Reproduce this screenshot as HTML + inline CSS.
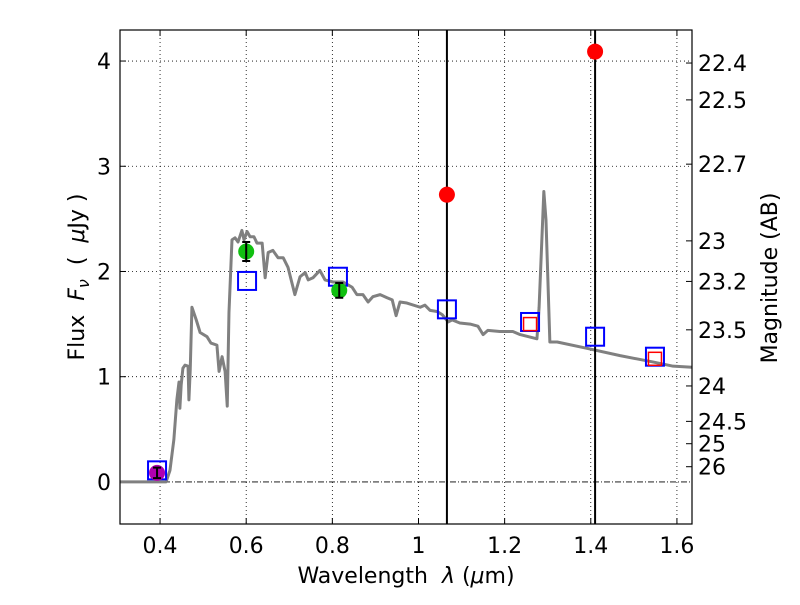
<!DOCTYPE html>
<html><head><meta charset="utf-8"><style>
body{margin:0;background:#fff}
svg{font-family:"DejaVu Sans","Liberation Sans",sans-serif}
text{white-space:pre}
</style></head><body>
<svg id="chart" width="800" height="600" xmlns="http://www.w3.org/2000/svg"></svg>
<script>
const specWl=[0.307,0.414,0.423,0.432,0.439,0.444,0.446,0.449,0.453,0.458,0.465,0.467,0.470,0.474,0.484,0.493,0.509,0.518,0.532,0.537,0.544,0.551,0.556,0.560,0.567,0.574,0.581,0.590,0.595,0.602,0.609,0.618,0.625,0.637,0.644,0.651,0.662,0.674,0.686,0.697,0.713,0.725,0.737,0.744,0.755,0.771,0.783,0.802,0.825,0.846,0.857,0.871,0.883,0.894,0.911,0.927,0.939,0.948,0.957,0.973,1.004,1.015,1.027,1.043,1.055,1.069,1.078,1.096,1.120,1.138,1.150,1.161,1.189,1.219,1.236,1.275,1.280,1.291,1.296,1.305,1.322,1.391,1.468,1.544,1.591,1.635];
const specFlux=[0,0,0.11,0.40,0.78,0.95,0.70,0.92,1.08,1.11,1.10,0.78,1.06,1.66,1.54,1.42,1.38,1.32,1.30,1.05,1.19,1.05,0.72,1.61,2.30,2.32,2.28,2.39,2.30,2.38,2.33,2.33,2.27,2.27,1.94,2.18,2.20,2.13,2.13,2.04,1.78,1.95,1.99,1.92,1.94,2.01,1.92,1.90,1.90,1.85,1.78,1.78,1.71,1.76,1.78,1.75,1.73,1.58,1.71,1.70,1.66,1.68,1.63,1.62,1.59,1.52,1.54,1.51,1.50,1.48,1.40,1.44,1.43,1.43,1.40,1.36,1.66,2.76,2.49,1.33,1.33,1.27,1.20,1.14,1.10,1.09];
const obsWl=[0.393,0.600,0.816];
const obsFlux=[0.086,2.19,1.82];
const obsErr=[0.05,0.09,0.07];
const obsColor=["#b000b0","#10c010","#10c010"];
const ulWl=[1.066,1.410];
const ulFlux=[2.73,4.09];
const modelWl=[0.393,0.602,0.813,1.066,1.259,1.410,1.549];
const modelFlux=[0.11,1.91,1.95,1.64,1.52,1.38,1.19];
const innerWl=[1.259,1.549];
const innerFlux=[1.50,1.17];
const xTicks=[0.4,0.6,0.8,1,1.2,1.4,1.6];
const xTickLabels=["0.4","0.6","0.8","1","1.2","1.4","1.6"];
const yTicks=[0,1,2,3,4];
const magTicks=[22.4,22.5,22.7,23,23.2,23.5,24,24.5,25,26];

const L=120,R=692,T=30,B=524,X0=0.307,X1=1.635,Y0=-0.4,Y1=4.295;
const sx=v=>L+(v-X0)/(X1-X0)*(R-L);
const sy=v=>B-(v-Y0)/(Y1-Y0)*(B-T);
const svg=document.getElementById('chart');
const NS="http://www.w3.org/2000/svg";
function mk(tag,attrs,parent){const e=document.createElementNS(NS,tag);for(const k in attrs)e.setAttribute(k,attrs[k]);(parent||svg).appendChild(e);return e;}

xTicks.forEach((t,i)=>{
 const g=mk('line',{x1:sx(t),x2:sx(t),y1:T,y2:B,stroke:'#000','stroke-width':0.8,'stroke-dasharray':'1,3'});
 
 
 const tk=mk('line',{x1:sx(t),x2:sx(t),y1:B,y2:B-6,stroke:'#000'});
 
 
 const tk2=mk('line',{x1:sx(t),x2:sx(t),y1:T,y2:T+6,stroke:'#000'});
 
 
 const tx=mk('text',{x:sx(t),y:B+29,'text-anchor':'middle','font-size':22});
 tx.textContent=xTickLabels[i];
 
 
});
yTicks.forEach(t=>{
 if(t!==0){const g=mk('line',{x1:L,x2:R,y1:sy(t),y2:sy(t),stroke:'#000','stroke-width':0.8,'stroke-dasharray':'1,3'});
 
 }
 const tk=mk('line',{x1:L,x2:L+6,y1:sy(t),y2:sy(t),stroke:'#000'});
 
 
 const tx=mk('text',{x:L-9,y:sy(t)+8,'text-anchor':'end','font-size':22});
 tx.textContent=String(t);
 
 
});
const zl=mk('line',{x1:L,x2:R,y1:sy(0),y2:sy(0),stroke:'#000','stroke-width':0.8,'stroke-dasharray':'6,2,1,2'});



magTicks.forEach(m=>{
 const f=Math.pow(10,(23.9-m)/2.5);
 const tk=mk('line',{x1:R-6,x2:R,y1:sy(f),y2:sy(f),stroke:'#000'});
 
 
 const tx=mk('text',{x:R+6,y:sy(f)+8,'font-size':22});
 tx.textContent=String(m);
 
 
});

const sp=mk('polyline',{points:specWl.map((w,i)=>sx(w)+','+sy(specFlux[i])).join(' '),fill:'none',stroke:'#808080','stroke-width':3,'stroke-linejoin':'round'});



ulWl.forEach(w=>{
 const v=mk('line',{x1:sx(w),x2:sx(w),y1:T,y2:B,stroke:'#000','stroke-width':2});
 
 
});
modelWl.forEach((w,i)=>{
 const r=mk('rect',{x:sx(w)-9,y:sy(modelFlux[i])-9,width:18,height:18,fill:'none',stroke:'#0000ff','stroke-width':2});
 
 
});
innerWl.forEach((w,i)=>{
 const r=mk('rect',{x:sx(w)-6.5,y:sy(innerFlux[i])-6.5,width:13,height:13,fill:'none',stroke:'#ff0000','stroke-width':1.5});
 
 
});
obsWl.forEach((w,i)=>{
 const c=mk('circle',{cx:sx(w),cy:sy(obsFlux[i]),r:8,fill:obsColor[i]});
 
 
 const y1=sy(obsFlux[i]+obsErr[i]),y2=sy(obsFlux[i]-obsErr[i]),x=sx(w);
 const e=mk('path',{d:`M${x},${y1}V${y2}M${x-4},${y1}H${x+4}M${x-4},${y2}H${x+4}`,stroke:'#000','stroke-width':2,fill:'none'});
 
 
});
ulWl.forEach((w,i)=>{
 const c=mk('circle',{cx:sx(w),cy:sy(ulFlux[i]),r:8,fill:'#ff0000'});
 
 
});

const fr=mk('rect',{x:L,y:T,width:R-L,height:B-T,fill:'none',stroke:'#000','stroke-width':1.2});



const xl=mk('text',{x:406,y:583,'text-anchor':'middle','font-size':22});
xl.innerHTML='Wavelength  <tspan font-style="italic">λ</tspan> (<tspan font-style="italic">μ</tspan>m)';


const yl=mk('text',{x:0,y:0,'text-anchor':'middle','font-size':22,transform:'translate(84,277) rotate(-90)'});
yl.innerHTML='Flux  <tspan font-style="italic">F</tspan><tspan font-style="italic" font-size="16" dy="5">ν</tspan><tspan dy="-5">  (  </tspan><tspan font-style="italic">μ</tspan>Jy )';


const ml=mk('text',{x:0,y:0,'text-anchor':'middle','font-size':22,transform:'translate(777,278) rotate(-90)'});
ml.textContent='Magnitude (AB)';


</script>
</body></html>
